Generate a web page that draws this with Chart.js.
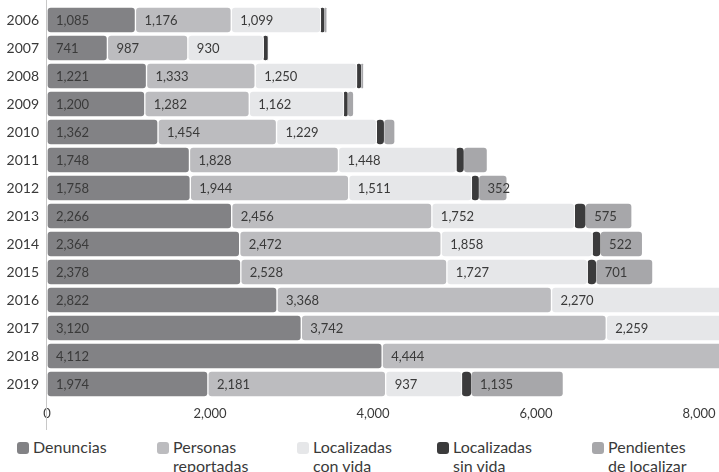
<!DOCTYPE html>
<html>
<head>
<meta charset="utf-8">
<script src="https://cdn.jsdelivr.net/npm/chart.js@4.4.1/dist/chart.umd.min.js"></script>
<style>
    body { margin: 0; background: #fff; font-family: Lato, sans-serif; }
    #wrap { position: relative; width: 719px; height: 472px; overflow: hidden; }
    #legend { position: absolute; left: 17px; top: 437px; display: flex; }
    .item { display: flex; align-items: flex-start; width: 140px; font-size: 16px; line-height: 19px; color: #3a3a3a; }
    .item:nth-child(4) { width: 155px; }
    .box { width: 12px; height: 12px; border-radius: 3px; margin: 5px 4px 0 0; flex: none; }
</style>
</head>
<body>
<div id="wrap">
    <canvas id="chart" width="719" height="430"></canvas>
    <div id="legend"></div>
</div>
<script>
const years = ['2006', '2007', '2008', '2009', '2010', '2011', '2012', '2013', '2014', '2015', '2016', '2017', '2018', '2019'];
const denuncias = [1085, 741, 1221, 1200, 1362, 1748, 1758, 2266, 2364, 2378, 2822, 3120, 4112, 1974];
const reportadas = [1176, 987, 1333, 1282, 1454, 1828, 1944, 2456, 2472, 2528, 3368, 3742, 4444, 2181];
const conVida = [1099, 930, 1250, 1162, 1229, 1448, 1511, 1752, 1858, 1727, 2270, 2259, null, 937];
const sinVida = [38, 45, 45, 40, 85, 85, 81, 129, 92, 100, null, null, null, 109];
const pendientes = [39, 12, 38, 80, 140, 295, 352, 575, 522, 701, null, null, null, 1135];
const tickValues = [0, 2000, 4000, 6000, 8000];

const seriesNames = [['Denuncias'], ['Personas', 'reportadas'], ['Localizadas', 'con vida'], ['Localizadas', 'sin vida'], ['Pendientes', 'de localizar']];
const colors = ['#828285', '#bcbcbf', '#e6e7e9', '#3b3b3c', '#a7a7aa'];

Chart.defaults.font.family = 'Lato, sans-serif';

const radius = { topLeft: 4, topRight: 4, bottomLeft: 4, bottomRight: 4 };

function makeSet(i, data, showValues) {
    const isThin = i === 3;
    return {
        label: seriesNames[i].join(' '),
        data: data,
        backgroundColor: colors[i],
        borderColor: '#ffffff',
        borderWidth: isThin ? 0 : 1,
        borderSkipped: false,
        borderRadius: radius,
        barThickness: isThin ? 24 : 26,
        showValues: showValues
    };
}

// etiquetas de valor dentro de cada segmento
const valueLabels = {
    id: 'valueLabels',
    afterDatasetsDraw(chart) {
        const ctx = chart.ctx;
        const area = chart.chartArea;
        ctx.save();
        ctx.beginPath();
        ctx.rect(area.left, area.top, area.right - area.left, area.bottom - area.top);
        ctx.clip();
        ctx.font = '13px Lato, sans-serif';
        ctx.fillStyle = '#3a3a3a';
        ctx.textBaseline = 'middle';
        chart.data.datasets.forEach((ds, i) => {
            if (!ds.showValues) return;
            chart.getDatasetMeta(i).data.forEach((bar, j) => {
                const v = ds.data[j];
                if (v == null) return;
                if (bar.x - bar.base < 27) return;
                ctx.fillText(v.toLocaleString('en-US'), bar.base + 9, bar.y + 1);
            });
        });
        ctx.restore();
    }
};

const axisLine = {
    id: 'axisLine',
    afterDraw(chart) {
        const ctx = chart.ctx;
        const xs = chart.scales.x;
        const x = Math.round(xs.getPixelForValue(0)) - 0.5;
        ctx.save();
        ctx.strokeStyle = '#c8c8c8';
        ctx.lineWidth = 1;
        ctx.beginPath();
        ctx.moveTo(x, 0);
        ctx.lineTo(x, xs.bottom);
        ctx.stroke();
        ctx.restore();
    }
};

new Chart(document.getElementById('chart'), {
    type: 'bar',
    data: {
        labels: years,
        datasets: [
            makeSet(0, denuncias, true),
            makeSet(1, reportadas, true),
            makeSet(2, conVida, true),
            makeSet(3, sinVida, false),
            makeSet(4, pendientes, true)
        ]
    },
    options: {
        indexAxis: 'y',
        responsive: false,
        animation: false,
        devicePixelRatio: 1,
        layout: { padding: { top: 6, left: 0, right: 0, bottom: 0 } },
        plugins: { legend: { display: false }, tooltip: { enabled: false } },
        scales: {
            x: {
                stacked: true,
                min: 0,
                max: 8245,
                grid: { display: false, drawTicks: false },
                border: { display: false },
                afterBuildTicks: axis => { axis.ticks = tickValues.map(v => ({ value: v })); },
                afterFit: axis => {
                    axis.height = 32;
                    axis.paddingLeft = 0;
                    axis.paddingRight = 0;
                },
                ticks: {
                    padding: 8,
                    color: '#3a3a3a',
                    font: { size: 13 },
                    callback: v => v.toLocaleString('en-US')
                }
            },
            y: {
                stacked: true,
                grid: { display: false, drawTicks: false },
                border: { display: false },
                afterFit: axis => {
                    axis.width = 47;
                    axis.paddingTop = 0;
                    axis.paddingBottom = 0;
                },
                ticks: { padding: 8, color: '#3a3a3a', font: { size: 14 } }
            }
        }
    },
    plugins: [valueLabels, axisLine]
});

const legend = document.getElementById('legend');
seriesNames.forEach((name, i) => {
    const item = document.createElement('div');
    item.className = 'item';
    item.innerHTML = '<span class="box" style="background:' + colors[i] + '"></span><span>' + name.join('<br>') + '</span>';
    legend.appendChild(item);
});
</script>
</body>
</html>
